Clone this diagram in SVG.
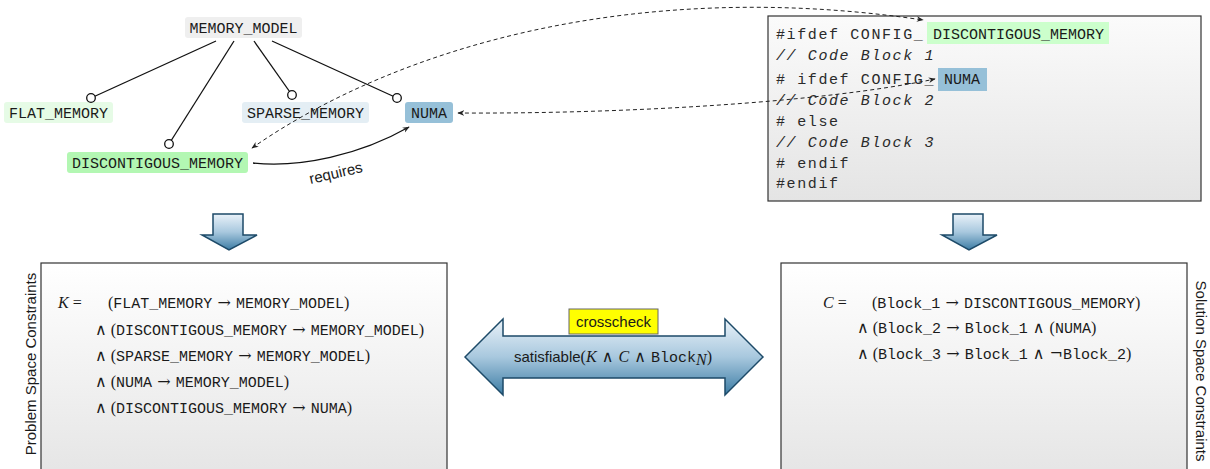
<svg xmlns="http://www.w3.org/2000/svg" width="1210" height="469" viewBox="0 0 1210 469">
  <style>
    .tt { font-family: "Liberation Mono", "DejaVu Sans Mono", monospace; font-size: 15px; fill: #1a1a1a; }
    .code { font-family: "Liberation Mono", "DejaVu Sans Mono", monospace; font-size: 15px; fill: #2a2a2a; letter-spacing: 1.6px; }
    .code-it { font-style: italic; }
    .sym { font-family: "Liberation Serif", "DejaVu Serif", serif; font-size: 16px; fill: #1a1a1a; }
    .op { font-family: "DejaVu Serif", "Liberation Serif", serif; font-size: 16px; fill: #1a1a1a; }
    .cal { font-family: "Liberation Serif", "DejaVu Serif", serif; font-style: italic; font-size: 16px; fill: #1a1a1a; }
    .sans { font-family: "Liberation Sans", "DejaVu Sans", sans-serif; font-size: 15px; fill: #1a1a1a; }
    .edge { stroke: #111; stroke-width: 1.3; fill: none; }
    .knob { fill: #fff; stroke: #111; stroke-width: 1.3; }
    .link { stroke: #222; stroke-width: 1; fill: none; stroke-dasharray: 4 3; }
    .frame { stroke: #333; stroke-width: 1.2; }
    .bigarrow { fill: url(#blueFade); stroke: #1d4a68; stroke-width: 1.5; stroke-linejoin: miter; }
  </style>
  <defs>
    <marker id="tip" viewBox="0 0 10 10" refX="9" refY="5" markerWidth="7" markerHeight="7" markerUnits="userSpaceOnUse" orient="auto-start-reverse">
      <path d="M0,1 L10,5 L0,9 L3,5 z" fill="#222"/>
    </marker>
    <linearGradient id="blueFade" x1="0" y1="0" x2="0" y2="1">
      <stop offset="0" stop-color="#eaf2f9"/>
      <stop offset="0.5" stop-color="#a8c8de"/>
      <stop offset="1" stop-color="#3c7ca4"/>
    </linearGradient>
    <linearGradient id="codeFade" x1="0" y1="16" x2="0" y2="201" gradientUnits="userSpaceOnUse">
      <stop offset="0" stop-color="#fbfbfb"/>
      <stop offset="1" stop-color="#e4e4e4"/>
    </linearGradient>
    <linearGradient id="boxFade" x1="0" y1="263" x2="0" y2="469" gradientUnits="userSpaceOnUse">
      <stop offset="0" stop-color="#ffffff"/>
      <stop offset="1" stop-color="#e6e6e6"/>
    </linearGradient>
  </defs>

  <!-- feature model nodes -->
  <g id="node-memory-model">
    <rect x="185" y="17" width="117" height="21" rx="3" fill="#efefef"/>
    <text class="tt" x="243.5" y="32.5" text-anchor="middle">MEMORY_MODEL</text>
  </g>
  <g id="node-flat-memory">
    <rect x="4" y="102" width="109" height="21" rx="3" fill="#e6fbe6"/>
    <text class="tt" x="58.5" y="117.5" text-anchor="middle">FLAT_MEMORY</text>
  </g>
  <g id="node-sparse-memory">
    <rect x="242" y="102" width="127" height="21" rx="3" fill="#e4eef4"/>
    <text class="tt" x="305.5" y="117.5" text-anchor="middle">SPARSE_MEMORY</text>
  </g>
  <g id="node-numa">
    <rect x="405" y="102" width="48" height="21" rx="3" fill="#96c0d8"/>
    <text class="tt" x="429" y="117.5" text-anchor="middle">NUMA</text>
  </g>
  <g id="node-discontigous-memory">
    <rect x="67" y="152" width="181" height="21" rx="3" fill="#b3f7b3"/>
    <text class="tt" x="157.5" y="167.5" text-anchor="middle">DISCONTIGOUS_MEMORY</text>
  </g>

  <!-- source code listing -->
  <g id="node-code">
    <rect class="frame" x="768" y="16" width="433" height="185" fill="url(#codeFade)"/>
    <rect x="927" y="22" width="182" height="22" fill="#ccffcc"/>
    <rect x="938" y="68" width="49" height="23" fill="#96c0d8"/>
    <text class="code" x="776" y="39">#ifdef CONFIG_</text>
    <text class="tt" x="933" y="38.5">DISCONTIGOUS_MEMORY</text>
    <text class="code code-it" x="776" y="60">// Code Block 1</text>
    <text class="code" x="776" y="84"># ifdef CONFIG_</text>
    <text class="tt" x="944" y="84">NUMA</text>
    <text class="code code-it" x="776" y="105">// Code Block 2</text>
    <text class="code" x="776" y="126"># else</text>
    <text class="code code-it" x="776" y="147">// Code Block 3</text>
    <text class="code" x="776" y="168"># endif</text>
    <text class="code" x="776" y="188">#endif</text>
  </g>

  <!-- derivation arrows -->
  <g id="node-derive-left">
    <polygon class="bigarrow" points="213,214 243,214 243,235 257,235 229,250 202,235 213,235"/>
  </g>
  <g id="node-derive-right">
    <polygon class="bigarrow" points="953,214 983,214 983,235 997,235 969,250 942,235 953,235"/>
  </g>

  <!-- problem space constraints -->
  <g id="node-problem-space">
    <rect class="frame" x="41" y="263" width="406" height="220" fill="url(#boxFade)"/>
    <text class="sans" transform="translate(36,364) rotate(-90)" text-anchor="middle">Problem Space Constraints</text>
    <text y="308"><tspan class="cal" x="58">K</tspan><tspan class="sym"> =</tspan><tspan class="sym" x="108">(</tspan><tspan class="tt">FLAT_MEMORY</tspan><tspan class="op"> → </tspan><tspan class="tt">MEMORY_MODEL</tspan><tspan class="sym">)</tspan></text>
    <text y="335"><tspan class="op" x="95">∧</tspan><tspan class="sym"> (</tspan><tspan class="tt">DISCONTIGOUS_MEMORY</tspan><tspan class="op"> → </tspan><tspan class="tt">MEMORY_MODEL</tspan><tspan class="sym">)</tspan></text>
    <text y="361"><tspan class="op" x="95">∧</tspan><tspan class="sym"> (</tspan><tspan class="tt">SPARSE_MEMORY</tspan><tspan class="op"> → </tspan><tspan class="tt">MEMORY_MODEL</tspan><tspan class="sym">)</tspan></text>
    <text y="387"><tspan class="op" x="95">∧</tspan><tspan class="sym"> (</tspan><tspan class="tt">NUMA</tspan><tspan class="op"> → </tspan><tspan class="tt">MEMORY_MODEL</tspan><tspan class="sym">)</tspan></text>
    <text y="413"><tspan class="op" x="95">∧</tspan><tspan class="sym"> (</tspan><tspan class="tt">DISCONTIGOUS_MEMORY</tspan><tspan class="op"> → </tspan><tspan class="tt">NUMA</tspan><tspan class="sym">)</tspan></text>
  </g>

  <!-- solution space constraints -->
  <g id="node-solution-space">
    <rect class="frame" x="781" y="263" width="406" height="220" fill="url(#boxFade)"/>
    <text class="sans" transform="translate(1196,371) rotate(90)" text-anchor="middle">Solution Space Constraints</text>
    <text y="308"><tspan class="cal" x="823">C</tspan><tspan class="sym"> =</tspan><tspan class="sym" x="872">(</tspan><tspan class="tt">Block_1</tspan><tspan class="op"> → </tspan><tspan class="tt">DISCONTIGOUS_MEMORY</tspan><tspan class="sym">)</tspan></text>
    <text y="333"><tspan class="op" x="857">∧</tspan><tspan class="sym"> (</tspan><tspan class="tt">Block_2</tspan><tspan class="op"> → </tspan><tspan class="tt">Block_1</tspan><tspan class="op"> ∧ </tspan><tspan class="sym">(</tspan><tspan class="tt">NUMA</tspan><tspan class="sym">)</tspan></text>
    <text y="359"><tspan class="op" x="857">∧</tspan><tspan class="sym"> (</tspan><tspan class="tt">Block_3</tspan><tspan class="op"> → </tspan><tspan class="tt">Block_1</tspan><tspan class="op"> ∧ ¬</tspan><tspan class="tt">Block_2</tspan><tspan class="sym">)</tspan></text>
  </g>

  <!-- crosscheck between both constraint sets -->
  <g id="node-crosscheck">
    <polygon class="bigarrow" points="465,357 503,319 503,336 725,336 725,319 763,357 725,395 725,378 503,378 503,395"/>
    <rect x="569" y="309" width="89" height="25" fill="#ffff00" stroke="#666" stroke-width="1"/>
    <text class="sans" x="613.5" y="327" text-anchor="middle">crosscheck</text>
    <text x="613" y="362" text-anchor="middle"><tspan class="sans">satisfiable</tspan><tspan class="sym">(</tspan><tspan class="cal">K</tspan><tspan class="op"> ∧ </tspan><tspan class="cal">C</tspan><tspan class="op"> ∧ </tspan><tspan class="tt">Block</tspan><tspan class="cal" font-size="11" dy="3">N</tspan><tspan class="sym" dy="-3">)</tspan></text>
  </g>

  <!-- feature tree edges and cross-reference connectors, drawn on top -->
  <g id="connectors">
    <line class="edge" x1="216" y1="41" x2="91" y2="98"/>
    <line class="edge" x1="234" y1="41" x2="169" y2="144"/>
    <line class="edge" x1="254" y1="41" x2="292" y2="95"/>
    <line class="edge" x1="272" y1="41" x2="397" y2="98"/>
    <circle class="knob" cx="91" cy="98" r="4.3"/>
    <circle class="knob" cx="169" cy="144" r="4.3"/>
    <circle class="knob" cx="292" cy="95" r="4.3"/>
    <circle class="knob" cx="397" cy="98" r="4.3"/>

    <path class="edge" d="M253,163 C300,168 360,155 409,127" marker-end="url(#tip)"/>
    <text class="sans" font-size="14" transform="translate(337,178) rotate(-13)" text-anchor="middle">requires</text>

    <path class="link" d="M252,148 C400,45 640,-22 923,20" marker-start="url(#tip)" marker-end="url(#tip)"/>
    <path class="link" d="M458,113 C620,114 820,103 935,79" marker-start="url(#tip)" marker-end="url(#tip)"/>
  </g>
</svg>
